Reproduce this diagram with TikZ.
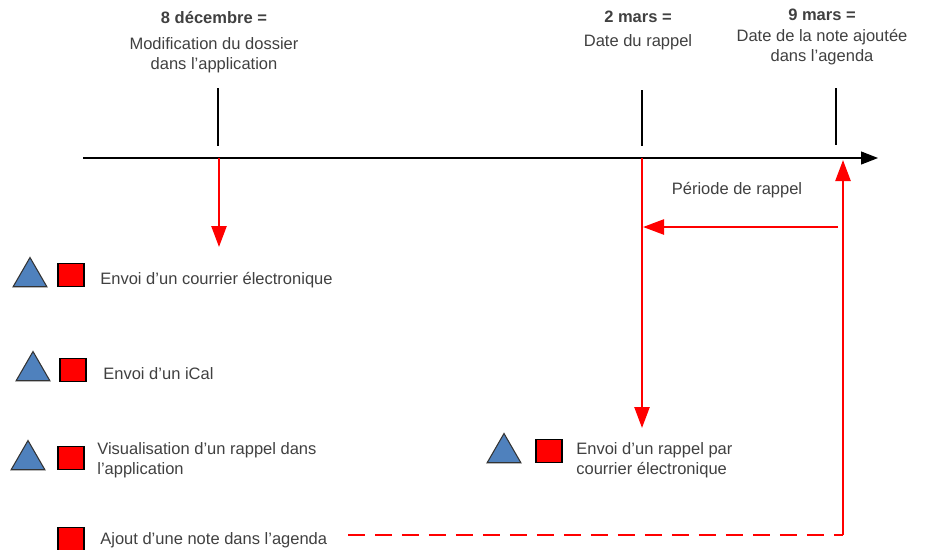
\documentclass[tikz,border=0pt]{standalone}
\usepackage{fontspec}
\setmainfont{Liberation Sans}
\usepackage{tikz}
\usetikzlibrary{arrows.meta,shapes.geometric}
\usepackage{xcolor}
\definecolor{rappel}{RGB}{255,0,0}
\definecolor{ical}{RGB}{79,129,189}
\definecolor{texte}{RGB}{64,64,64}

\begin{document}
\begin{tikzpicture}[x=0.02cm, y=-0.02cm,
  lbl/.style={font=\fontsize{9.4}{11.6}\selectfont, text=texte, inner sep=0pt, align=center},
  leg/.style={lbl, anchor=west, align=left},
  tick/.style={black, line width=0.6pt},
  axe/.style={-{Triangle[length=0.34cm,width=0.26cm]}, line width=0.6pt},
  rouge/.style={rappel, line width=1.4pt},
  rarr/.style={rouge, -{Triangle[length=0.42cm,width=0.3cm]}},
  tri/.style={regular polygon, regular polygon sides=3, minimum size=0.78cm, inner sep=0pt,
              draw=black!80, fill=ical, line width=0.6pt},
  carre/.style={draw=black, fill=rappel, minimum width=0.52cm, minimum height=0.47cm,
                inner sep=0pt, line width=0.6pt},
]
\useasboundingbox (0,0) rectangle (932,549);

% Dates
\node[lbl, anchor=north] (dec) at (214,11) {\textbf{8 décembre =}\\[3pt]Modification du dossier\\dans l'application};
\node[lbl, anchor=north] (mar2) at (638,11) {\textbf{2 mars =}\\[2pt]Date du rappel};
\node[lbl, anchor=north] (mar9) at (822,9) {\textbf{9 mars =}\\Date de la note ajoutée\\dans l'agenda};

% Axe du temps
\coordinate (t0) at (83,158);
\coordinate (t1) at (878,158);
\draw[axe] (t0) -- (t1);
\coordinate (dec-h) at (218,88);  \coordinate (dec-b) at (218,146);
\coordinate (mar2-h) at (642,90); \coordinate (mar2-b) at (642,146);
\coordinate (mar9-h) at (836,88); \coordinate (mar9-b) at (836,145);
\draw[tick] (dec-h) -- (dec-b);
\draw[tick] (mar2-h) -- (mar2-b);
\draw[tick] (mar9-h) -- (mar9-b);

% Fleches rouges
\coordinate (dec-axe) at (219,158);  \coordinate (dec-fin) at (219,247);
\coordinate (mar2-axe) at (642,158); \coordinate (mar2-fin) at (642,428);
\coordinate (per-d) at (838,227);    \coordinate (per-f) at (643,227);
\coordinate (note-b) at (843,535);   \coordinate (mar9-axe) at (843,160);
\coordinate (note-g) at (348,535);
\draw[rarr] (dec-axe) -- (dec-fin);
\draw[rarr] (mar2-axe) -- (mar2-fin);
\draw[rarr] (per-d) -- (per-f);
\node[lbl] (periode) at (737,190) {Période de rappel};
\draw[rouge, dash pattern=on 0.34cm off 0.2cm] (note-g) -- (note-b);
\draw[rarr] (note-b) -- (mar9-axe);

% Legende
\node[tri] (tri1) at (30,277) {};
\node[carre] (sq1) at (71,275) {};
\node[leg] (txt1) at (100,280) {Envoi d'un courrier électronique};

\node[tri] (tri2) at (33,371) {};
\node[carre] (sq2) at (73,370) {};
\node[leg] (txt2) at (103,374) {Envoi d'un iCal};

\node[tri] (tri3) at (28,460) {};
\node[carre] (sq3) at (71,458) {};
\node[leg] (txt3) at (97,460) {Visualisation d'un rappel dans\\l'application};

\node[carre] (sq4) at (71,539) {};
\node[leg] (txt4) at (100,540) {Ajout d'une note dans l'agenda};

\node[tri] (tri5) at (504,453) {};
\node[carre] (sq5) at (549,451) {};
\node[leg] (txt5) at (576,460) {Envoi d'un rappel par\\courrier électronique};
\end{tikzpicture}
\end{document}
